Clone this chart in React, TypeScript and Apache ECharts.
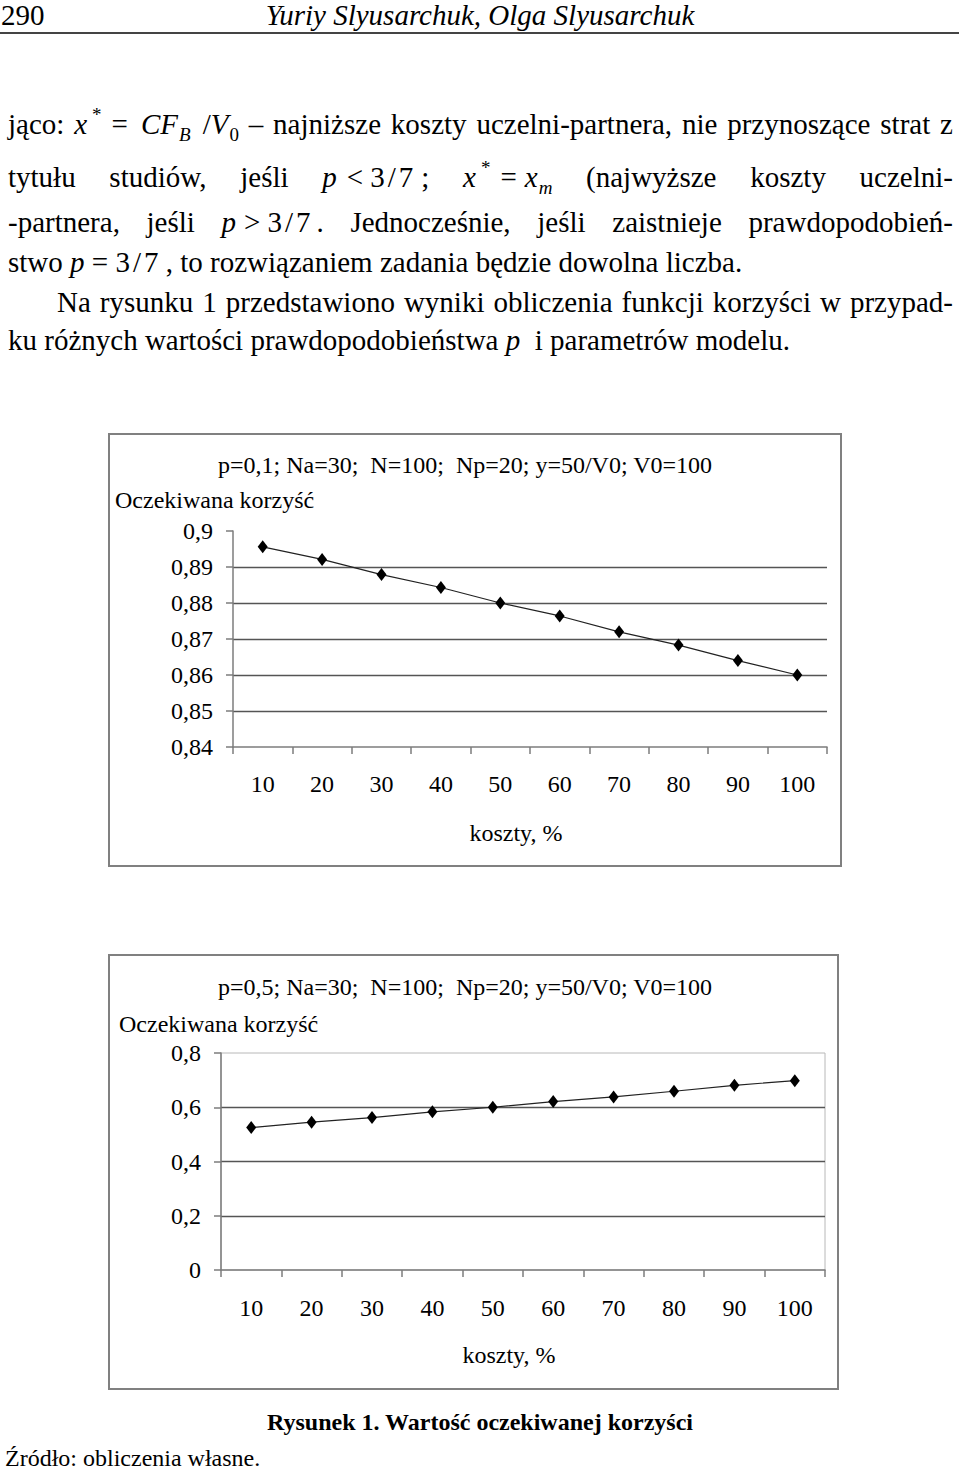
import React, { useEffect, useRef } from "react";
import * as echarts from "echarts";

const SERIF = '"Liberation Serif", "Times New Roman", serif';

// ---- data ----
const categories = ["10", "20", "30", "40", "50", "60", "70", "80", "90", "100"];
const benefitP01 = [0.8956, 0.8921, 0.8879, 0.8843, 0.88, 0.8764, 0.872, 0.8683, 0.864, 0.86];
const benefitP05 = [0.525, 0.545, 0.562, 0.583, 0.6, 0.621, 0.638, 0.659, 0.681, 0.698];
const titleP01 = "p=0,1; Na=30;  N=100;  Np=20; y=50/V0; V0=100";
const titleP05 = "p=0,5; Na=30;  N=100;  Np=20; y=50/V0; V0=100";
const yAxisTitle = "Oczekiwana korzyść";
const xAxisTitle = "koszty, %";
const yScaleP01 = { min: 0.84, max: 0.9, interval: 0.01 };
const yScaleP05 = { min: 0, max: 0.8, interval: 0.2 };

function fmt(v: number) {
  return String(Math.round(v * 100) / 100).replace(".", ",");
}

type Cfg = {
  w: number; h: number;
  gl: number; gt: number; gw: number; gh: number;
  values: number[]; scale: { min: number; max: number; interval: number };
  title: string; tx: number; ty: number;
  ynx: number; yny: number; xnx: number; xny: number;
  xMargin: number; border: boolean;
};

function txt(text: string, x: number, y: number, align: string) {
  return {
    type: "text", x, y, silent: true,
    style: {
      text, fontSize: 24, fontFamily: SERIF, fill: "#000",
      align, verticalAlign: "middle",
    },
  };
}

function makeOption(c: Cfg) {
  const axisCol = "#7c7c7c";
  return {
    animation: false,
    grid: {
      left: c.gl, top: c.gt, width: c.gw, height: c.gh,
      show: c.border, borderColor: "#b8b8b8", borderWidth: 1,
    },
    xAxis: {
      type: "category", data: categories, boundaryGap: true,
      axisLine: { show: true, lineStyle: { color: axisCol, width: 1.5 } },
      axisTick: { show: true, length: 7, lineStyle: { color: axisCol, width: 1.5 } },
      axisLabel: { margin: c.xMargin, color: "#000", fontFamily: SERIF, fontSize: 24 },
      splitLine: { show: false },
    },
    yAxis: {
      type: "value", min: c.scale.min, max: c.scale.max, interval: c.scale.interval,
      axisLine: { show: true, lineStyle: { color: axisCol, width: 1.5 } },
      axisTick: { show: true, length: 7, lineStyle: { color: axisCol, width: 1.5 } },
      axisLabel: { margin: 20, color: "#000", fontFamily: SERIF, fontSize: 24, formatter: (v: number) => fmt(v) },
      splitLine: { show: true, showMinLine: false, showMaxLine: false, lineStyle: { color: "#555", width: 1.3 } },
    },
    series: [{
      type: "line", data: c.values, symbol: "diamond", symbolSize: [10, 13],
      lineStyle: { color: "#222", width: 1.2 }, itemStyle: { color: "#000" },
    }],
    graphic: [
      { type: "rect", silent: true, shape: { x: 1, y: 1, width: c.w - 2, height: c.h - 2 }, style: { fill: "none", stroke: "#808080", lineWidth: 2 } },
      txt(c.title, c.tx, c.ty, "center"),
      txt(yAxisTitle, c.ynx, c.yny, "left"),
      txt(xAxisTitle, c.xnx, c.xny, "center"),
    ],
  };
}

function ChartBox({ left, top, cfg }: { left: number; top: number; cfg: Cfg }) {
  const ref = useRef<HTMLDivElement>(null);
  useEffect(() => {
    const chart = echarts.init(ref.current!, null, { renderer: "svg" });
    chart.setOption(makeOption(cfg) as any);
    return () => chart.dispose();
  }, []);
  return <div ref={ref} style={{ position: "absolute", left, top, width: cfg.w, height: cfg.h }} />;
}

function Line(props: any) {
  const { x, w, baseline, size = 29, justify = false, align = "left", style = {}, children } = props;
  const off = 0.8375 * size;
  return (
    <div
      style={{
        position: "absolute", left: x, top: baseline - off, width: w, height: size,
        lineHeight: `${size}px`, fontSize: size,
        whiteSpace: justify ? "normal" : "nowrap",
        textAlign: justify ? "justify" : align,
        textAlignLast: justify ? "justify" : align,
        ...style,
      } as any}
    >
      {children}
    </div>
  );
}

// a math group: kept together, not stretched by justification
function M({ children }: any) {
  return <span style={{ display: "inline-block", whiteSpace: "nowrap" }}>{children}</span>;
}

const supS: any = { fontSize: 19, lineHeight: 1, position: "relative", top: -13, marginLeft: 5 };
const subS: any = { fontSize: 19, lineHeight: 1, position: "relative", top: 7, marginLeft: 1 };
const sp = (w: number) => <span style={{ display: "inline-block", width: w }} />;
const frac = <>3{sp(3)}/{sp(3)}7</>;

export default function App() {
  const cfg1: Cfg = {
    w: 734, h: 434, gl: 125, gt: 98, gw: 594, gh: 216,
    values: benefitP01, scale: yScaleP01,
    title: titleP01, tx: 357, ty: 32, ynx: 7, yny: 67, xnx: 408, xny: 400,
    xMargin: 25, border: false,
  };
  const cfg2: Cfg = {
    w: 731, h: 436, gl: 113, gt: 99, gw: 604, gh: 217,
    values: benefitP05, scale: yScaleP05,
    title: titleP05, tx: 357, ty: 33, ynx: 11, yny: 70, xnx: 401, xny: 401,
    xMargin: 26, border: true,
  };
  return (
    <div style={{ position: "absolute", left: 0, top: 0, width: 960, height: 1471, background: "#fff", overflow: "hidden", fontFamily: SERIF, color: "#000" }}>
      <Line x={1} w={100} baseline={25}>290</Line>
      <Line x={0} w={960} baseline={25} align="center" style={{ fontStyle: "italic" }}>Yuriy Slyusarchuk, Olga Slyusarchuk</Line>
      <div style={{ position: "absolute", left: 0, top: 32, width: 959, height: 2, background: "#444" }} />

      <Line x={8} w={945} baseline={134} justify>
        jąco: <M><i>x</i><span style={supS}>*</span>{sp(10)}={sp(13)}<i>CF</i><span style={subS}><i>B</i></span>{sp(12)}/<i>V</i><span style={subS}>0</span></M> – najniższe koszty uczelni-partnera, nie przynoszące strat z
      </Line>
      <Line x={8} w={945} baseline={187} justify>
        tytułu studiów, jeśli <M><i>p</i>{sp(10)}&lt;{sp(7)}{frac}{sp(8)};</M> <M><i>x</i><span style={supS}>*</span>{sp(10)}={sp(8)}<i>x</i><span style={subS}><i>m</i></span></M> (najwyższe koszty uczelni-
      </Line>
      <Line x={8} w={945} baseline={232} justify>
        -partnera, jeśli <M><i>p</i>{sp(8)}&gt;{sp(7)}{frac}{sp(6)}.</M> Jednocześnie, jeśli zaistnieje prawdopodobień-
      </Line>
      <Line x={8} w={945} baseline={272}>
        stwo <i>p</i> = {frac} , to rozwiązaniem zadania będzie dowolna liczba.
      </Line>
      <Line x={57} w={896} baseline={312} justify>
        Na rysunku 1 przedstawiono wyniki obliczenia funkcji korzyści w przypad-
      </Line>
      <Line x={8} w={945} baseline={350}>
        ku różnych wartości prawdopodobieństwa <i>p</i>&nbsp; i parametrów modelu.
      </Line>

      <ChartBox left={108} top={433} cfg={cfg1} />
      <ChartBox left={108} top={954} cfg={cfg2} />

      <Line x={0} w={960} baseline={1430} size={24} align="center" style={{ fontWeight: "bold" }}>
        Rysunek 1. Wartość oczekiwanej korzyści
      </Line>
      <Line x={5} w={400} baseline={1466} size={24}>
        Źródło: obliczenia własne.
      </Line>
    </div>
  );
}
